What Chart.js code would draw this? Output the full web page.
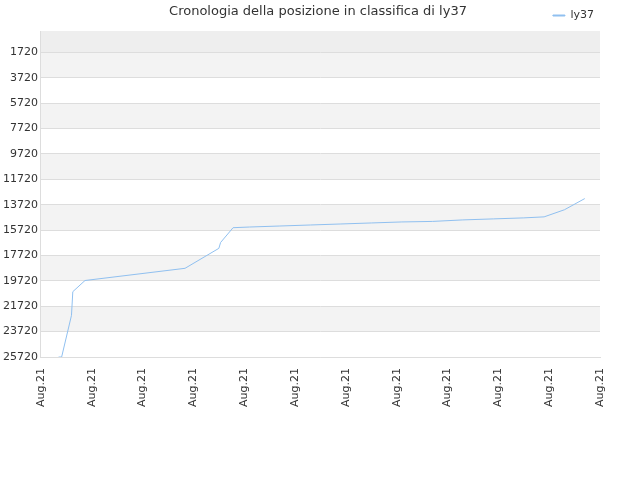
<!DOCTYPE html>
<html><head><meta charset="utf-8">
<script src="https://cdn.jsdelivr.net/npm/chart.js@4"></script>
<style>html,body{margin:0;background:#fff}</style>
</head><body><canvas id="c" width="640" height="480"></canvas>
<script>
const xPixels=[67.3,70.3,80,81.3,93.3,191.7,225,226.7,239,255,285,315,345,375,405,435,465,495,525,545,565,585];
const rankValues=[25720,25720,22440,20573,19693,18733,17160,16700,15533,15480,15400,15320,15240,15160,15080,15040,14920,14840,14760,14680,14120,13240];
const tickLabels=["Aug.21","Aug.21","Aug.21","Aug.21","Aug.21","Aug.21","Aug.21","Aug.21","Aug.21","Aug.21","Aug.21","Aug.21"];
const yTicks=[1720,3720,5720,7720,9720,11720,13720,15720,17720,19720,21720,23720,25720];
const titleText='Cronologia della posizione in classifica di ly37';
const pts=xPixels.map((p,i)=>({x:(p-50)/50,y:rankValues[i]}));
const bands={id:'bands',beforeDraw(ch){const {ctx,chartArea:a,scales:{y}}=ch;ctx.save();
 ctx.fillStyle='#eeeeee';ctx.fillRect(a.left,y.getPixelForValue(40),a.width,y.getPixelForValue(1720)-y.getPixelForValue(40));
 for(let i=0;i<yTicks.length-1;i++){if(i%2===0){ctx.fillStyle='#f3f3f3';const t=y.getPixelForValue(yTicks[i]),b=y.getPixelForValue(yTicks[i+1]);ctx.fillRect(a.left,t,a.width,b-t);}}
 ctx.restore();},
 afterDraw(ch){const ctx=ch.ctx;ctx.save();ctx.fillStyle='#333';ctx.font='13px "DejaVu Sans"';ctx.textAlign='center';ctx.textBaseline='middle';ctx.fillText(titleText,318,12);ctx.restore();}};
new Chart(document.getElementById('c'),{type:'line',
data:{datasets:[{label:'ly37',data:pts,borderColor:'#90c0f0',backgroundColor:'#90c0f0',borderWidth:1,pointRadius:0,tension:0}]},
options:{responsive:false,animation:false,devicePixelRatio:1,
 layout:{padding:{left:0,right:40,top:4,bottom:70}},
 plugins:{title:{display:false},
  legend:{position:'top',align:'end',labels:{boxWidth:12,boxHeight:1,color:'#333',padding:6,font:{family:'DejaVu Sans',size:11}}}},
 scales:{x:{type:'linear',min:0,max:11,afterBuildTicks(s){s.ticks=tickLabels.map((_,i)=>({value:i}));},
   ticks:{callback:(v,i)=>tickLabels[i],autoSkip:false,maxRotation:90,minRotation:90,color:'#333',font:{family:'DejaVu Sans',size:11}},grid:{display:false},border:{color:'#ddd'}},
  y:{reverse:true,min:40,max:25720,afterBuildTicks(s){s.ticks=yTicks.map(v=>({value:v}));},
   ticks:{callback:v=>String(v),color:'#333',font:{family:'DejaVu Sans',size:11}},grid:{color:'#ddd',drawTicks:false},border:{color:'#ddd'}}}},
plugins:[bands]});
</script></body></html>
